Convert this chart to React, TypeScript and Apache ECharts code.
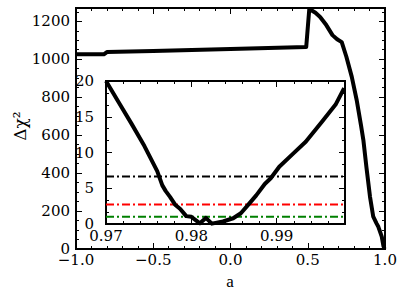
import React, { useEffect, useRef } from 'react';
import * as echarts from 'echarts';

// main curve: a vs delta chi^2
const mainA = [-1.0, -0.82, -0.80, -0.5, 0.0, 0.49, 0.51, 0.55, 0.58, 0.62, 0.66, 0.69, 0.72, 0.75, 0.785, 0.817, 0.845, 0.86, 0.88, 0.903, 0.924, 0.945, 0.957, 0.979, 0.99, 0.997];
const mainChi = [1026, 1026, 1038, 1044, 1054, 1064, 1265, 1245, 1223, 1180, 1127, 1105, 1090, 1013, 907, 784, 650, 574, 430, 275, 170, 135, 117, 65, 15, 0];

// inset curve
const insetA = [0.9700, 0.9715, 0.9730, 0.9745, 0.9760, 0.9766, 0.9770, 0.9775, 0.9781, 0.9787, 0.9794, 0.9800, 0.9810, 0.9817, 0.9824, 0.9837, 0.9849, 0.9858, 0.9866, 0.9876, 0.9886, 0.9893, 0.9903, 0.9918, 0.9934, 0.9953, 0.9969, 0.9979];
const insetChi = [20.0, 17.0, 14.0, 10.9, 7.4, 5.4, 4.6, 3.8, 2.7, 2.1, 1.1, 1.0, 0.1, 0.85, 0.05, 0.35, 0.8, 1.5, 2.6, 4.0, 5.6, 6.4, 8.0, 9.7, 11.5, 14.3, 16.7, 19.0];

// confidence levels in the inset
const levels = [6.63, 2.71, 1.0];
const levelColors = ['#000000', '#ff0000', '#008000'];

// axes ranges / ticks
const mainXRange = [-1.0, 1.0];
const mainYRange = [0, 1270];
const insetXRange = [0.97, 0.998];
const insetYRange = [0, 20];

const FONT = 'DejaVu Serif';
const FONT2 = 'Liberation Serif';

function axis(dim: 'x' | 'y', gridIndex: number, position: string, range: number[], interval: number, tickLen: number, label: any) {
  return {
    type: 'value',
    gridIndex,
    position,
    min: range[0],
    max: range[1],
    interval,
    axisLine: { show: true, onZero: false, lineStyle: { color: '#000', width: 1.8 } },
    axisTick: { show: true, inside: true, length: tickLen, lineStyle: { color: '#000', width: 1 } },
    axisLabel: label
      ? { show: true, color: '#000', fontFamily: FONT, fontSize: 15, margin: label.margin, formatter: label.formatter, hideOverlap: false }
      : { show: false },
    splitLine: { show: false },
    minorTick: { show: false },
  };
}

const fmtMainX = (v: number) => (v < 0 ? '\u2212' + Math.abs(v).toFixed(1) : v.toFixed(1));
const fmtMainY = (v: number) => (Math.abs(v % 200) < 1e-6 ? String(v) : '');
const fmtInsetX = (v: number) => (Math.abs(v * 100 - Math.round(v * 100)) < 1e-6 ? v.toFixed(2) : '');
const fmtInsetY = (v: number) => (Math.abs(v % 5) < 1e-6 ? String(v) : '');

export default function App() {
  const ref = useRef<HTMLDivElement>(null);
  useEffect(() => {
    document.body.style.margin = '0';
    const chart = echarts.init(ref.current!, null, { renderer: 'svg' });
    const option = {
      animation: false,
      backgroundColor: '#ffffff',
      textStyle: { fontFamily: FONT },
      grid: [
        { left: 76, top: 8, width: 309, height: 241, containLabel: false },
        { left: 106, top: 81, width: 239, height: 143, containLabel: false, show: true, backgroundColor: '#ffffff', borderWidth: 0 },
      ],
      xAxis: [
        axis('x', 0, 'bottom', mainXRange, 0.5, 6, { margin: 3, formatter: fmtMainX }),
        axis('x', 0, 'bottom', mainXRange, 0.1, 3, null),
        axis('x', 0, 'top', mainXRange, 0.5, 6, null),
        axis('x', 0, 'top', mainXRange, 0.1, 3, null),
        axis('x', 1, 'bottom', insetXRange, 0.01, 6, { margin: 4, formatter: fmtInsetX }),
        axis('x', 1, 'bottom', insetXRange, 0.002, 3, null),
        axis('x', 1, 'top', insetXRange, 0.01, 6, null),
        axis('x', 1, 'top', insetXRange, 0.002, 3, null),
      ],
      yAxis: [
        axis('y', 0, 'left', mainYRange, 200, 6, { margin: 6, formatter: fmtMainY }),
        axis('y', 0, 'left', mainYRange, 50, 3, null),
        axis('y', 0, 'right', mainYRange, 200, 6, null),
        axis('y', 0, 'right', mainYRange, 50, 3, null),
        axis('y', 1, 'left', insetYRange, 5, 6, { margin: 12, formatter: fmtInsetY }),
        axis('y', 1, 'left', insetYRange, 5 / 3, 3, null),
        axis('y', 1, 'right', insetYRange, 5, 6, null),
        axis('y', 1, 'right', insetYRange, 5 / 3, 3, null),
      ],
      graphic: [
        {
          type: 'text',
          x: 20,
          y: 126,
          rotation: Math.PI / 2,
          style: { text: '\u0394\u03c7\u00b2', fontFamily: FONT, fontSize: 17, fill: '#000', textAlign: 'center', textVerticalAlign: 'middle' },
        },
        {
          type: 'text',
          x: 230,
          y: 281,
          style: { text: 'a', fontFamily: FONT2, fontSize: 17, fill: '#000', textAlign: 'center', textVerticalAlign: 'middle' },
        },
      ],
      series: [
        {
          type: 'line',
          xAxisIndex: 0,
          yAxisIndex: 0,
          data: mainA.map((a, i) => [a, mainChi[i]]),
          showSymbol: false,
          symbol: 'none',
          lineStyle: { color: '#000', width: 4, join: 'round' },
        },
        ...levels.map((v, i) => ({
          type: 'line',
          xAxisIndex: 4,
          yAxisIndex: 4,
          data: [[insetXRange[0], v], [insetXRange[1], v]],
          showSymbol: false,
          symbol: 'none',
          lineStyle: { color: levelColors[i], width: 2, type: [8, 3, 2, 3] },
        })),
        {
          type: 'line',
          xAxisIndex: 4,
          yAxisIndex: 4,
          data: insetA.map((a, i) => [a, insetChi[i]]),
          showSymbol: false,
          symbol: 'none',
          lineStyle: { color: '#000', width: 4, join: 'round' },
        },
      ],
    };
    chart.setOption(option as any);
    return () => chart.dispose();
  }, []);
  return <div ref={ref} style={{ width: 407, height: 302 }} />;
}
